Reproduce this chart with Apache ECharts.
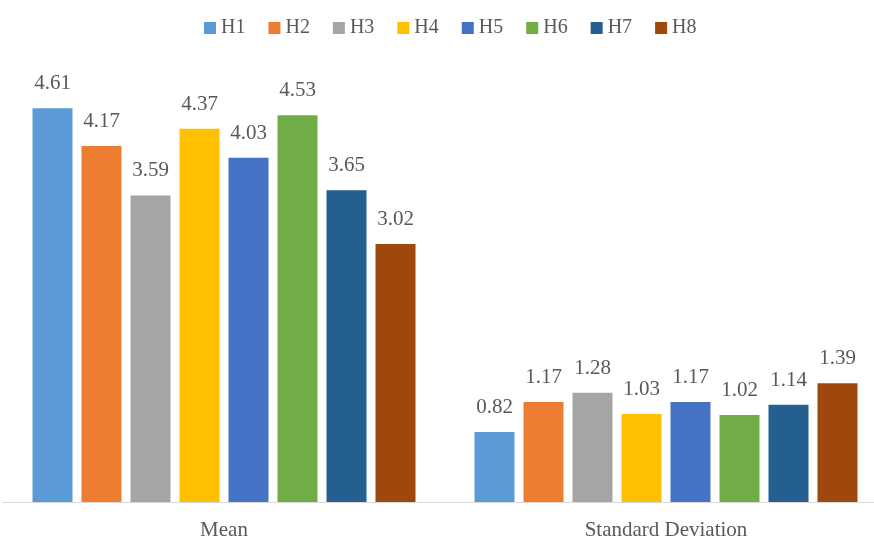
<!DOCTYPE html>
<html>
<head>
<meta charset="utf-8">
<script src="https://cdn.jsdelivr.net/npm/echarts@6/dist/echarts.min.js"></script>
<style>
  html, body { margin: 0; padding: 0; background: #fff; }
  #chart { width: 874px; height: 543px; }
</style>
</head>
<body>
<div id="chart"></div>
<script>
var categories = ['Mean', 'Standard Deviation'];
var seriesNames = ['H1', 'H2', 'H3', 'H4', 'H5', 'H6', 'H7', 'H8'];
var meanValues = [4.61, 4.17, 3.59, 4.37, 4.03, 4.53, 3.65, 3.02];
var sdValues = [0.82, 1.17, 1.28, 1.03, 1.17, 1.02, 1.14, 1.39];
var colors = ['#5B9BD5', '#ED7D31', '#A5A5A5', '#FFC000', '#4472C4', '#70AD47', '#255E91', '#9E480E'];

var myChart = echarts.init(document.getElementById('chart'));

var textFont = '"Liberation Serif", "Times New Roman", serif';

var series = seriesNames.map(function (name, i) {
    return {
        name: name,
        type: 'bar',
        data: [meanValues[i], sdValues[i]],
        barWidth: 40,
        barGap: '22.5%',
        itemStyle: { color: colors[i] },
        label: {
            show: true,
            position: 'top',
            distance: 14,
            color: '#595959',
            fontFamily: textFont,
            fontSize: 21,
            formatter: function (p) {
                return p.value.toFixed(2);
            }
        }
    };
});

myChart.setOption({
    animation: false,
    color: colors,
    legend: {
        top: 13,
        left: 199,
        itemWidth: 12,
        itemHeight: 12,
        itemGap: 23,
        icon: 'rect',
        textStyle: {
            color: '#595959',
            fontFamily: textFont,
            fontSize: 20
        },
        data: seriesNames
    },
    grid: {
        left: 3,
        width: 884,
        top: 75,
        bottom: 41,
        containLabel: false,
        outerBoundsMode: 'none'
    },
    xAxis: {
        type: 'category',
        data: categories,
        axisLine: {
            lineStyle: { color: '#D9D9D9', width: 1 }
        },
        axisTick: { show: false },
        axisLabel: {
            color: '#595959',
            fontFamily: textFont,
            fontSize: 21,
            margin: 18
        }
    },
    yAxis: {
        type: 'value',
        min: 0,
        max: 5,
        show: false,
        splitLine: { show: false }
    },
    series: series
});
</script>
</body>
</html>
